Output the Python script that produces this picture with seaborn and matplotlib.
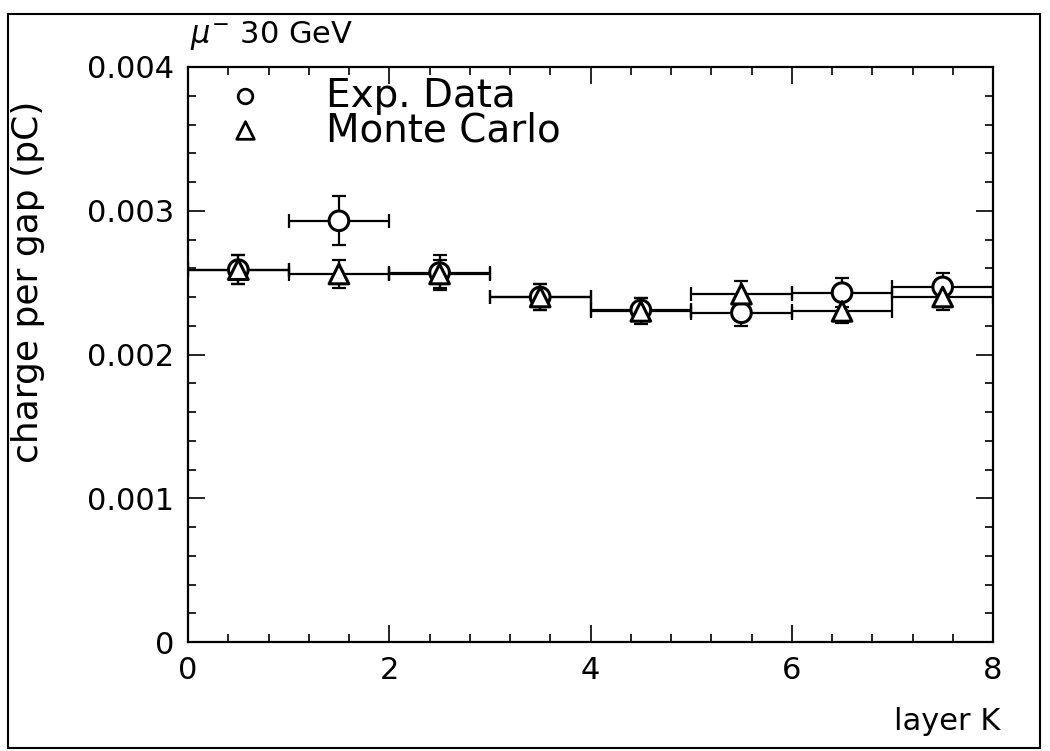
import numpy as np
import pandas as pd
import matplotlib
matplotlib.use("Agg")
import matplotlib.pyplot as plt
from matplotlib.patches import Rectangle
from matplotlib.ticker import MultipleLocator
import seaborn as sns

# ---- data ----
layer = [0.5, 1.5, 2.5, 3.5, 4.5, 5.5, 6.5, 7.5]
exp_charge = [0.00259, 0.00293, 0.00257, 0.00240, 0.00231, 0.00229, 0.00243, 0.00247]
exp_err = [0.00010, 0.00017, 0.00012, 0.00009, 0.00008, 0.00009, 0.00010, 0.00010]
mc_charge = [0.00259, 0.00256, 0.00256, 0.00240, 0.00230, 0.00242, 0.00230, 0.00240]
mc_err = [0.00010, 0.00010, 0.00010, 0.00009, 0.00009, 0.00009, 0.00008, 0.00009]
x_halfwidth = 0.5

df = pd.DataFrame({
    "layer": layer * 2,
    "charge": exp_charge + mc_charge,
    "series": ["Exp. Data"] * len(layer) + ["Monte Carlo"] * len(layer),
})

sns.set_theme(style="ticks")
plt.rcParams["font.family"] = ["DejaVu Sans"]
plt.rcParams["text.color"] = "black"
plt.rcParams["axes.labelcolor"] = "black"

fig = plt.figure(figsize=(10.5, 7.51), dpi=100)
ax = fig.add_axes([188 / 1050, 1 - 642 / 751, (993 - 188) / 1050, (642 - 67) / 751])

ax.errorbar(layer, exp_charge, xerr=x_halfwidth, yerr=exp_err, fmt="none",
            ecolor="black", elinewidth=1.6, capsize=5, capthick=1.6, zorder=2)
ax.errorbar(layer, mc_charge, xerr=x_halfwidth, yerr=mc_err, fmt="none",
            ecolor="black", elinewidth=1.6, capsize=5, capthick=1.6, zorder=2)

sns.scatterplot(data=df, x="layer", y="charge", style="series",
                markers={"Exp. Data": "o", "Monte Carlo": "^"},
                s=200, facecolor="white", edgecolor="black", linewidth=2.2,
                color="black", legend=False, ax=ax, zorder=3)

ax.set_xlim(0, 8)
ax.set_ylim(0, 0.004)
ax.set_xticks([0, 2, 4, 6, 8])
ax.set_yticks([0, 0.001, 0.002, 0.003, 0.004])
ax.set_yticklabels(["0", "0.001", "0.002", "0.003", "0.004"])
ax.xaxis.set_minor_locator(MultipleLocator(0.4))
ax.yaxis.set_minor_locator(MultipleLocator(0.0002))
ax.tick_params(which="both", direction="in", top=True, right=True,
               labelsize=22, colors="black", width=1.2)
ax.tick_params(which="major", length=12, pad=10)
ax.tick_params(which="minor", length=6)
for s in ax.spines.values():
    s.set_linewidth(1.6)
    s.set_color("black")

ax.set_xlabel("")
ax.set_ylabel("charge per gap (pC)", fontsize=26, color="black")
ax.yaxis.set_label_coords(-0.178, 0.626)

# legend drawn manually (marker + text)
ax.scatter([0.57], [0.00380], marker="o", s=110, facecolor="white",
           edgecolor="black", linewidth=2, zorder=4)
ax.text(1.37, 0.00380, "Exp. Data", fontsize=28, va="center", ha="left", color="black")
ax.scatter([0.57], [0.00356], marker="^", s=160, facecolor="white",
           edgecolor="black", linewidth=2, zorder=4)
ax.text(1.37, 0.00356, "Monte Carlo", fontsize=28, va="center", ha="left", color="black")

fig.text(190 / 1050, 1 - 35 / 751, r"$\mu^{-}$ 30 GeV", fontsize=22, va="center", ha="left",
         color="black")
fig.text(1000 / 1050, 1 - 722 / 751, "layer K", fontsize=22, va="center", ha="right",
         color="black")

fig.patches.append(Rectangle((8 / 1050, 1 - 748 / 751), (1040 - 8) / 1050, (748 - 14) / 751,
                             transform=fig.transFigure, fill=False, edgecolor="black",
                             linewidth=1.5))

fig.savefig("out.png", dpi=100, facecolor="white")
